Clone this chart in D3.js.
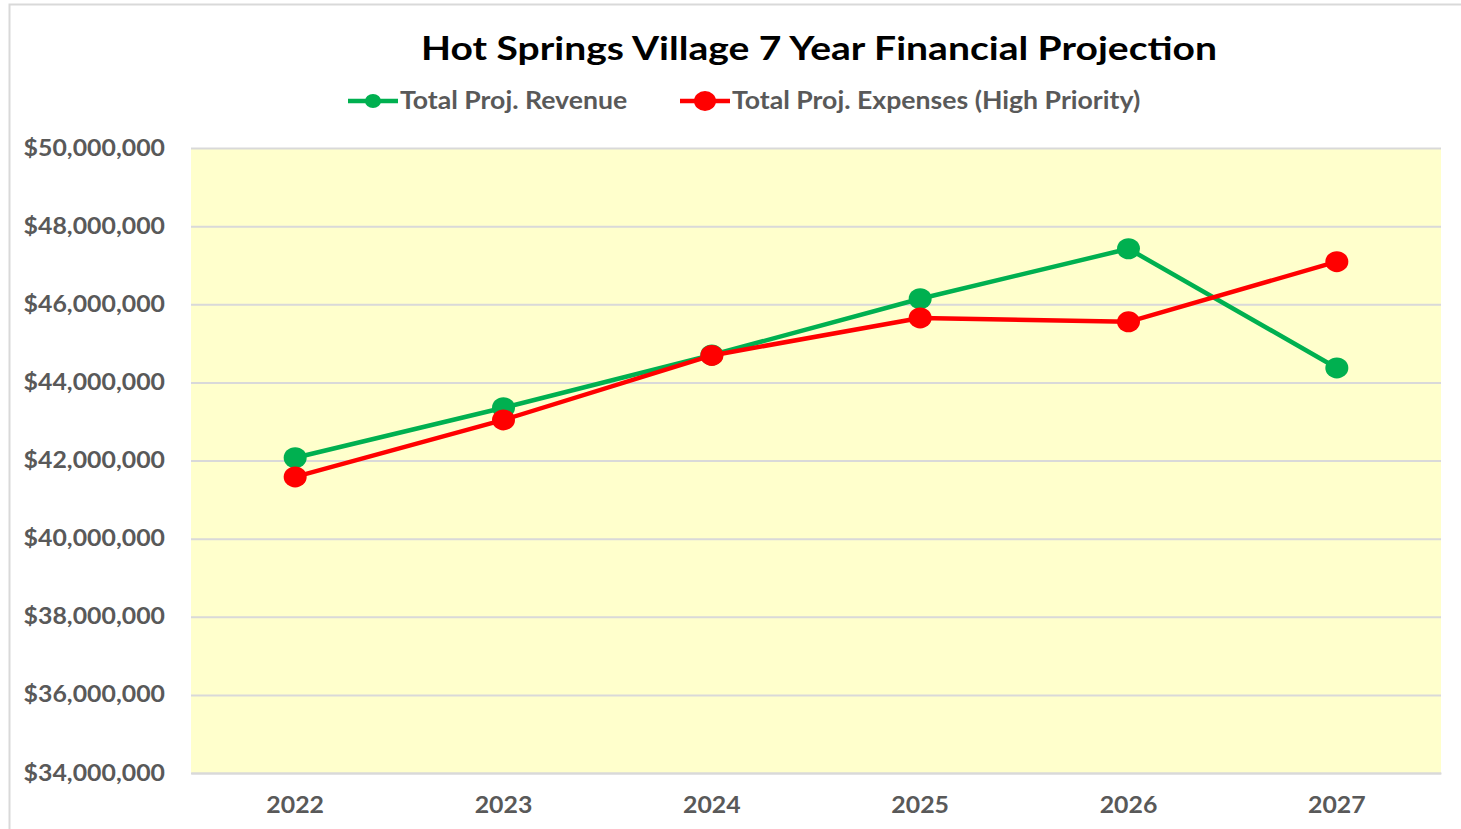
<!DOCTYPE html>
<html>
<head>
<meta charset="utf-8">
<script src="https://cdn.jsdelivr.net/npm/d3@7"></script>
<style>
  body { margin: 0; background: #fff; }
  text { font-family: Lato, "Open Sans", sans-serif; }
</style>
</head>
<body>
<svg class="projection" width="1461" height="829"></svg>
<script>
// data
const years = ["2022", "2023", "2024", "2025", "2026", "2027"];
const revenue = [42070000, 43350000, 44700000, 46140000, 47420000, 44370000];
const expenses = [41580000, 43040000, 44690000, 45650000, 45550000, 47090000];
const yTicks = [34000000, 36000000, 38000000, 40000000, 42000000, 44000000, 46000000, 48000000, 50000000];
const seriesNames = ["Total Proj. Revenue", "Total Proj. Expenses (High Priority)"];

const REVENUE_COLOR = "#00b050";
const EXPENSE_COLOR = "#ff0000";
const TEXT_GREY = "#595959";
const GRID_COLOR = "#d9d9d9";
// the source image is slightly stretched sideways
const STRETCH = 1.13;

var svg = d3.select("svg.projection"),
  margin = { top: 148, right: 20, bottom: 56, left: 191 },
  width = +svg.attr("width") - margin.left - margin.right,
  height = +svg.attr("height") - margin.top - margin.bottom;

// chart frame (only top + left edge visible in the shot)
svg.append("rect")
  .attr("x", 9.5).attr("y", 4.5)
  .attr("width", 1500).attr("height", 900)
  .attr("fill", "none")
  .attr("stroke", GRID_COLOR)
  .attr("stroke-width", 2);

const chartG = svg.append("g")
  .attr("transform", `translate(${margin.left}, ${margin.top})`);

const xScale = d3.scaleBand().domain(years).range([0, width]);
const yScale = d3.scaleLinear().domain([34000000, 50000000]).range([height, 0]);

chartG.append("rect")
  .attr("width", width)
  .attr("height", height)
  .attr("fill", "#ffffcc");

// gridlines + y labels
const yAxis = d3.axisLeft(yScale)
  .tickValues(yTicks)
  .tickSize(-width)
  .tickPadding(26)
  .tickFormat((d) => "$" + d3.format(",")(d));

chartG.append("g")
  .attr("class", "y axis")
  .call(yAxis)
  .call((g) => g.select(".domain").remove())
  .call((g) => g.selectAll(".tick line")
    .attr("stroke", GRID_COLOR)
    .attr("stroke-width", 2))
  .call((g) => g.selectAll(".tick text")
    .attr("fill", TEXT_GREY)
    .attr("font-weight", "bold")
    .attr("font-size", 22)
    .attr("x", 0)
    .attr("transform", `translate(-26,0) scale(${STRETCH},1)`));

const xAxis = d3.axisBottom(xScale).tickSize(0).tickPadding(24);

chartG.append("g")
  .attr("class", "x axis")
  .attr("transform", `translate(0, ${height})`)
  .call(xAxis)
  .call((g) => g.select(".domain")
    .attr("stroke", GRID_COLOR)
    .attr("stroke-width", 2))
  .call((g) => g.selectAll(".tick text")
    .attr("fill", TEXT_GREY)
    .attr("font-weight", "bold")
    .attr("font-size", 22)
    .attr("transform", `scale(${STRETCH},1)`));

const cx = (d, i) => xScale(years[i]) + xScale.bandwidth() / 2;

const line = d3.line()
  .x(cx)
  .y((d) => yScale(d));

const series = [
  { values: revenue, color: REVENUE_COLOR },
  { values: expenses, color: EXPENSE_COLOR },
];

series.forEach((s) => {
  chartG.append("path")
    .datum(s.values)
    .attr("d", line)
    .attr("fill", "none")
    .attr("stroke", s.color)
    .attr("stroke-width", 4.5)
    .attr("stroke-linejoin", "round");

  chartG.append("g")
    .selectAll("ellipse")
    .data(s.values)
    .enter()
    .append("ellipse")
    .attr("cx", cx)
    .attr("cy", (d) => yScale(d))
    .attr("rx", 11.5)
    .attr("ry", 10.5)
    .attr("fill", s.color);
});

// TITLE
svg.append("text")
  .attr("transform", "translate(819, 49) scale(1.22,1)")
  .attr("dy", "0.35em")
  .attr("text-anchor", "middle")
  .attr("font-weight", "bold")
  .attr("font-size", 32)
  .attr("fill", "#000")
  .text("Hot Springs Village 7 Year Financial Projection");

// LEGEND
const legendX = [348, 680];
const legend = svg.selectAll("g.legend-item")
  .data(seriesNames)
  .enter()
  .append("g")
  .attr("class", "legend-item")
  .attr("transform", (d, i) => `translate(${legendX[i]}, 101)`);

legend.append("line")
  .attr("x1", 0).attr("x2", 50)
  .attr("stroke", (d, i) => series[i].color)
  .attr("stroke-width", 4.5);

legend.append("ellipse")
  .attr("cx", 25)
  .attr("rx", (d, i) => (i === 0 ? 8 : 11))
  .attr("ry", (d, i) => (i === 0 ? 7 : 10))
  .attr("fill", (d, i) => series[i].color);

legend.append("text")
  .attr("transform", "translate(52,0) scale(1.11,1)")
  .attr("dy", "0.35em")
  .attr("fill", TEXT_GREY)
  .attr("font-weight", "bold")
  .attr("font-size", 24)
  .text((d) => d);
</script>
</body>
</html>
